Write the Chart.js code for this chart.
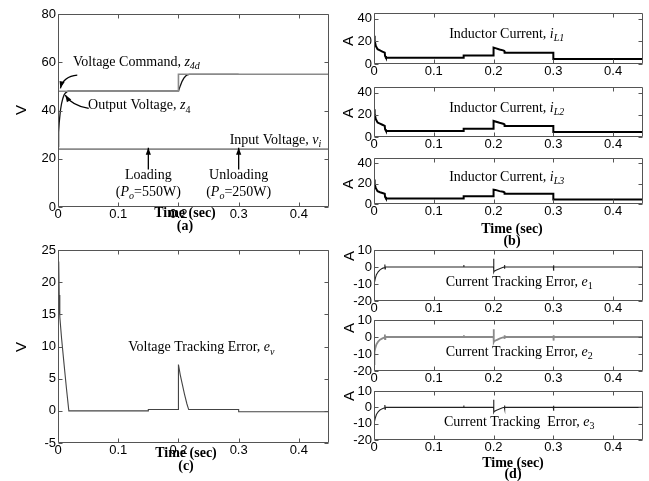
<!DOCTYPE html>
<html><head><meta charset="utf-8">
<script src="https://cdn.jsdelivr.net/npm/chart.js@4.4.0/dist/chart.umd.min.js"></script>
<style>
html,body{margin:0;padding:0;background:#fff;}
#wrap{position:relative;width:649px;height:481px;overflow:hidden;background:#fff;}
canvas{position:absolute;left:0;top:0;}
.lbl{position:absolute;font-family:"Liberation Serif","Times New Roman",serif;font-weight:bold;font-size:14px;white-space:nowrap;transform:translate(-50%,-50%);line-height:1;}
.ax{position:absolute;font-family:"Liberation Sans",Arial,sans-serif;font-size:15px;line-height:1;transform:translate(-50%,-50%) rotate(-90deg);}
</style></head><body>
<div id="wrap">
<canvas id="ca" width="649" height="481"></canvas>
<canvas id="cb1" width="649" height="481"></canvas>
<canvas id="cb2" width="649" height="481"></canvas>
<canvas id="cb3" width="649" height="481"></canvas>
<canvas id="cc" width="649" height="481"></canvas>
<canvas id="cd1" width="649" height="481"></canvas>
<canvas id="cd2" width="649" height="481"></canvas>
<canvas id="cd3" width="649" height="481"></canvas>
<div class="ax" style="left:20px;top:110px">V</div>
<div class="lbl" style="left:185px;top:213px">Time (sec)</div>
<div class="lbl" style="left:185px;top:226px">(a)</div>
<div class="ax" style="left:347px;top:41px">A</div>
<div class="ax" style="left:347px;top:113px">A</div>
<div class="ax" style="left:347px;top:184px">A</div>
<div class="lbl" style="left:512px;top:229px">Time (sec)</div>
<div class="lbl" style="left:512px;top:241px">(b)</div>
<div class="ax" style="left:20px;top:347px">V</div>
<div class="lbl" style="left:186px;top:453px">Time (sec)</div>
<div class="lbl" style="left:186px;top:466px">(c)</div>
<div class="ax" style="left:348px;top:256px">A</div>
<div class="ax" style="left:348px;top:328px">A</div>
<div class="ax" style="left:348px;top:396px">A</div>
<div class="lbl" style="left:513px;top:463px">Time (sec)</div>
<div class="lbl" style="left:513px;top:474px">(d)</div>
</div>
<script>
// ---------- tick labels ----------
const xTicks = [0, 0.1, 0.2, 0.3, 0.4];
const aTicks = [0, 20, 40, 60, 80];
const bTicks = [0, 20, 40];
const cTicks = [-5, 0, 5, 10, 15, 20, 25];
const dTicks = [-20, -10, 0, 10];

// ---------- panel (a) ----------
const tInput = [0, 0.45];
const vInput = [24, 24];
const tCmd = [0, 0.2, 0.2, 0.45];
const vCmd = [48, 48, 55, 55];
const tOut = [0, 0.001, 0.002, 0.004, 0.006, 0.008, 0.010, 0.012, 0.015, 0.017, 0.2, 0.203, 0.206, 0.209, 0.212, 0.215, 0.218, 0.3];
const vOut = [25, 31, 35, 40, 43, 45, 46.4, 47.2, 47.8, 48, 48, 50.2, 52.1, 53.4, 54.3, 54.8, 55, 55];

// ---------- panel (b) ----------
const tL = [0, 0.001, 0.003, 0.006, 0.01, 0.014, 0.018, 0.0185, 0.02, 0.15, 0.15, 0.2, 0.2, 0.203, 0.21, 0.216, 0.218, 0.2185, 0.22, 0.3, 0.3, 0.45];
const iL1 = [25, 21, 16, 13, 12, 11, 10, 7, 5.5, 5.5, 7.5, 7.5, 14.5, 14, 12.8, 12, 11.5, 10, 10, 10, 4.5, 4.5];
const iL2 = [25, 21, 16, 13, 12, 11, 10, 7, 5.5, 5.5, 7.5, 7.5, 14.5, 14, 12.8, 12, 11.5, 10, 10, 10, 4.5, 4.5];
const iL3 = [24, 20, 15.5, 12.5, 11.5, 10.8, 10, 7, 5.5, 5.5, 7.5, 7.5, 14, 13.8, 12.6, 12, 11.5, 10, 10, 10, 4.5, 4.5];

// ---------- panel (c) ----------
const tEv = [0, 0.0012, 0.002, 0.003, 0.006, 0.01, 0.014, 0.018, 0.15, 0.15, 0.2, 0.2, 0.203, 0.206, 0.21, 0.214, 0.217, 0.3, 0.3, 0.45];
const eV = [15, 23.2, 18, 14.6, 11.2, 7.3, 3.5, 0, 0, 0.2, 0.2, 7.2, 5.6, 4.3, 2.6, 1.1, 0.2, 0.2, -0.15, -0.15];

// ---------- panel (d) ----------
const tE = [0, 0.0005, 0.001, 0.002, 0.004, 0.007, 0.01, 0.014, 0.018, 0.0182, 0.0185, 0.019, 0.15, 0.1502, 0.1505, 0.2, 0.2002, 0.2005, 0.201, 0.205, 0.21, 0.215, 0.218, 0.2182, 0.2185, 0.219, 0.3, 0.3002, 0.3005, 0.301, 0.45];
const e1 = [-17, -12, -9, -7, -4.5, -2.8, -1.7, -0.8, -0.3, 1.5, -1.2, 0, 0, 1.2, 0, 0, 4.8, -3, -2.5, -1.8, -1, -0.3, 0, 1.2, -1, 0, 0, -2.2, 1, 0, 0];
const e2 = [-16, -11.5, -8.8, -6.8, -4.4, -2.7, -1.6, -0.8, -0.3, 1.4, -1.2, 0, 0, 1.1, 0, 0, 4.6, -3, -2.5, -1.8, -1, -0.3, 0, 1.1, -1, 0, 0, -2.1, 1, 0, 0];
const e3 = [-16, -11.5, -8.8, -6.8, -4.4, -2.7, -1.6, -0.8, -0.3, 1.4, -1.2, 0, 0, 1.1, 0, 0, 4.6, -3, -2.5, -1.8, -1, -0.3, 0, 1.1, -1, 0, 0, -2.1, 1, 0, 0];

// ---------- helpers ----------
const SANS = '"Liberation Sans", Arial, sans-serif';
const SERIF = '"Liberation Serif", "Times New Roman", serif';
const YW = 40, XH = 22;
const pts = (t, v) => t.map((x, i) => ({x: x, y: v[i]}));

function drawRich(ctx, x, y, parts, align, size) {
  const fonts = {
    r: size + 'px ' + SERIF,
    i: 'italic ' + size + 'px ' + SERIF,
    s: 'italic ' + Math.round(size * 0.72) + 'px ' + SERIF,
    n: Math.round(size * 0.72) + 'px ' + SERIF
  };
  let w = 0;
  for (const [t, k] of parts) { ctx.font = fonts[k]; w += ctx.measureText(t).width; }
  let cx = align === 'center' ? x - w / 2 : (align === 'right' ? x - w : x);
  ctx.textBaseline = 'middle';
  ctx.textAlign = 'left';
  ctx.fillStyle = '#000';
  for (const [t, k] of parts) {
    ctx.font = fonts[k];
    const dy = (k === 's' || k === 'n') ? size * 0.3 : 0;
    ctx.fillText(t, cx, y + dy);
    cx += ctx.measureText(t).width;
  }
}

function arrowHead(ctx, x, y, ang) {
  const L = 7, W = 2.6;
  ctx.beginPath();
  ctx.moveTo(x, y);
  ctx.lineTo(x - L * Math.cos(ang) + W * Math.sin(ang), y - L * Math.sin(ang) - W * Math.cos(ang));
  ctx.lineTo(x - L * Math.cos(ang) - W * Math.sin(ang), y - L * Math.sin(ang) + W * Math.cos(ang));
  ctx.closePath();
  ctx.fill();
}

function makeChart(id, box, yMin, yMax, yTicks, datasets, notes, arrows) {
  const framePlugin = {
    id: 'frame',
    afterDatasetsDraw(chart) {
      const ctx = chart.ctx, a = chart.chartArea;
      const xs = chart.scales.x, ys = chart.scales.y;
      ctx.save();
      ctx.strokeStyle = '#555';
      ctx.lineWidth = 1;
      ctx.beginPath();
      const L = Math.round(a.left) + 0.5, R = Math.round(a.right) - 0.5;
      const T = Math.round(a.top) + 0.5, B = Math.round(a.bottom) - 0.5;
      ctx.rect(L, T, R - L, B - T);
      for (const v of xTicks) {
        const px = Math.round(xs.getPixelForValue(v)) + 0.5;
        ctx.moveTo(px, B); ctx.lineTo(px, B - 4);
        ctx.moveTo(px, T); ctx.lineTo(px, T + 4);
      }
      for (const v of yTicks) {
        const py = Math.round(ys.getPixelForValue(v)) + 0.5;
        ctx.moveTo(L, py); ctx.lineTo(L + 4, py);
        ctx.moveTo(R, py); ctx.lineTo(R - 4, py);
      }
      ctx.stroke();
      // arrows
      ctx.strokeStyle = '#000';
      ctx.fillStyle = '#000';
      ctx.lineWidth = 1.3;
      for (const ar of (arrows || [])) {
        const x0 = xs.getPixelForValue(ar.from[0]), y0 = ys.getPixelForValue(ar.from[1]);
        const x1 = xs.getPixelForValue(ar.to[0]), y1 = ys.getPixelForValue(ar.to[1]);
        ctx.beginPath();
        ctx.moveTo(x0, y0);
        let ang;
        if (ar.ctrl) {
          const cx = xs.getPixelForValue(ar.ctrl[0]), cy = ys.getPixelForValue(ar.ctrl[1]);
          ctx.quadraticCurveTo(cx, cy, x1, y1);
          ang = Math.atan2(y1 - cy, x1 - cx);
        } else {
          ctx.lineTo(x1, y1);
          ang = Math.atan2(y1 - y0, x1 - x0);
        }
        ctx.stroke();
        arrowHead(ctx, x1, y1, ang);
      }
      for (const n of (notes || [])) {
        drawRich(ctx, xs.getPixelForValue(n.t), ys.getPixelForValue(n.v), n.parts, n.align, n.size || 14);
      }
      ctx.restore();
    }
  };
  return new Chart(document.getElementById(id), {
    type: 'line',
    data: {datasets: datasets},
    options: {
      responsive: false,
      animation: false,
      events: [],
      layout: {
        autoPadding: false,
        padding: {left: box.L - YW, top: box.T, right: 649 - box.R, bottom: 481 - box.B - XH}
      },
      plugins: {legend: {display: false}, tooltip: {enabled: false}},
      elements: {point: {radius: 0}, line: {tension: 0}},
      scales: {
        x: {
          type: 'linear', min: 0, max: 0.45,
          afterBuildTicks: s => { s.ticks = xTicks.map(v => ({value: v})); },
          afterFit: s => { s.height = XH; },
          grid: {display: false, drawTicks: false},
          border: {display: false},
          ticks: {font: {family: SANS, size: 13}, color: '#000', padding: 0, maxRotation: 0, autoSkip: false,
                  callback: v => (v === 0 ? '0' : v.toFixed(1))}
        },
        y: {
          type: 'linear', min: yMin, max: yMax,
          afterBuildTicks: s => { s.ticks = yTicks.map(v => ({value: v})); },
          afterFit: s => { s.width = YW; },
          grid: {display: false, drawTicks: false},
          border: {display: false},
          ticks: {font: {family: SANS, size: 13}, color: '#000', padding: 2, autoSkip: false,
                  callback: v => String(v)}
        }
      }
    },
    plugins: [framePlugin]
  });
}

function ds(t, v, color, width) {
  return {data: pts(t, v), borderColor: color, borderWidth: width, pointRadius: 0, fill: false};
}

// ---------- panel (a) ----------
makeChart('ca', {L: 58, T: 14, R: 329, B: 207}, 0, 80, aTicks, [
  ds(tInput, vInput, '#8a8a8a', 1.6),
  ds(tCmd, vCmd, '#8a8a8a', 1.6),
  ds(tOut, vOut, '#111', 1.3)
], [
  {t: 0.025, v: 60, align: 'left', parts: [['Voltage Command, ', 'r'], ['z', 'i'], ['4d', 's']]},
  {t: 0.05, v: 42, align: 'left', parts: [['Output Voltage, ', 'r'], ['z', 'i'], ['4', 'n']]},
  {t: 0.285, v: 27.5, align: 'left', parts: [['Input Voltage, ', 'r'], ['v', 'i'], ['i', 's']]},
  {t: 0.15, v: 13, align: 'center', parts: [['Loading', 'r']]},
  {t: 0.15, v: 6, align: 'center', parts: [['(', 'r'], ['P', 'i'], ['o', 's'], ['=550W)', 'r']]},
  {t: 0.3, v: 13, align: 'center', parts: [['Unloading', 'r']]},
  {t: 0.3, v: 6, align: 'center', parts: [['(', 'r'], ['P', 'i'], ['o', 's'], ['=250W)', 'r']]}
], [
  {from: [0.15, 15.5], to: [0.15, 24.6]},
  {from: [0.3, 15.5], to: [0.3, 24.6]},
  {from: [0.032, 54.7], ctrl: [0.009, 54.3], to: [0.004, 49.2]},
  {from: [0.051, 40.9], ctrl: [0.024, 41.9], to: [0.012, 46.4]}
]);

// ---------- panel (b) ----------
const noteL = k => [{t: 0.222, v: 26, align: 'center', parts: [['Inductor Current, ', 'r'], ['i', 'i'], ['L' + k, 's']]}];
makeChart('cb1', {L: 374, T: 13, R: 643, B: 64}, 0, 45, bTicks, [ds(tL, iL1, '#000', 2)], noteL(1));
makeChart('cb2', {L: 374, T: 87, R: 643, B: 137}, 0, 45, bTicks, [ds(tL, iL2, '#000', 2)], noteL(2));
makeChart('cb3', {L: 374, T: 158, R: 643, B: 204}, 0, 45, bTicks, [ds(tL, iL3, '#000', 2)], noteL(3));

// ---------- panel (c) ----------
makeChart('cc', {L: 58, T: 250, R: 329, B: 443}, -5, 25, cTicks, [ds(tEv, eV, '#444', 1.1)], [
  {t: 0.238, v: 9.8, align: 'center', parts: [['Voltage Tracking Error, ', 'r'], ['e', 'i'], ['v', 's']]}
]);

// ---------- panel (d) ----------
makeChart('cd1', {L: 374, T: 250, R: 643, B: 301}, -20, 10, dTicks, [ds(tE, e1, '#222', 1.1)], [
  {t: 0.243, v: -9, align: 'center', parts: [['Current Tracking Error, ', 'r'], ['e', 'i'], ['1', 'n']]}
]);
makeChart('cd2', {L: 374, T: 320, R: 643, B: 371}, -20, 10, dTicks, [ds(tE, e2, '#8a8a8a', 1.8)], [
  {t: 0.243, v: -9, align: 'center', parts: [['Current Tracking Error, ', 'r'], ['e', 'i'], ['2', 'n']]}
]);
makeChart('cd3', {L: 374, T: 391, R: 643, B: 440}, -20, 10, dTicks, [ds(tE, e3, '#222', 1.1)], [
  {t: 0.243, v: -9, align: 'center', parts: [['Current Tracking  Error, ', 'r'], ['e', 'i'], ['3', 'n']]}
]);
</script>
</body></html>
